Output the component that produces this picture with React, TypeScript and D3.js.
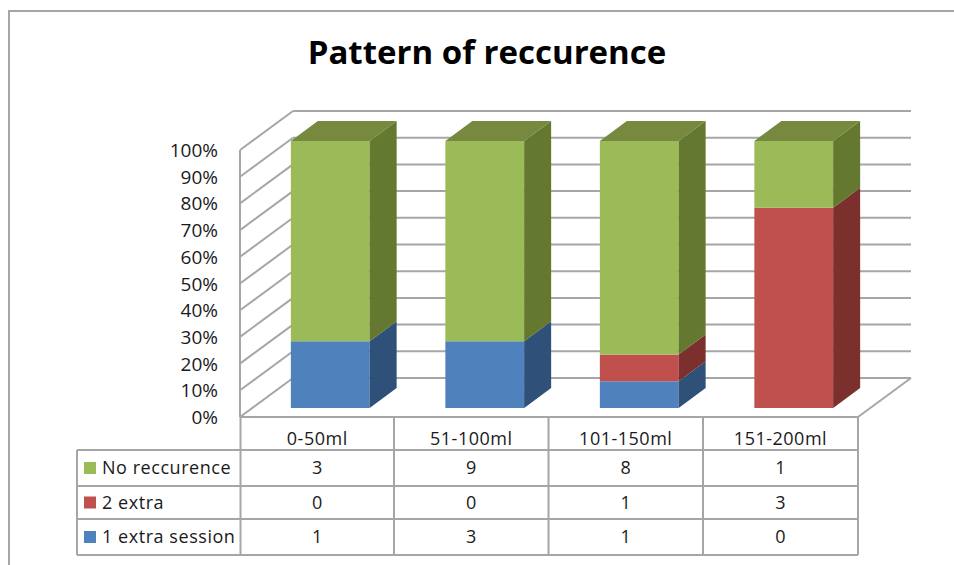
import React from "react";
import * as d3 from "d3";

const categories = ["0-50ml", "51-100ml", "101-150ml", "151-200ml"];
const seriesNames = ["1 extra session", "2 extra", "No reccurence"];
const oneExtra = [1, 3, 1, 0];
const twoExtra = [0, 0, 1, 3];
const noRecurrence = [3, 9, 8, 1];
const yTicks = [0, 0.1, 0.2, 0.3, 0.4, 0.5, 0.6, 0.7, 0.8, 0.9, 1];
const front = ["#4F81BD", "#C0504D", "#9BBB59"];
const side = ["#2F5078", "#7B302D", "#64782F"];
const topFace = "#76893F";
const grid = "#A6A6A6";
const textColor = "#1a1a1a";
const fontFamily = "'Open Sans', 'Noto Sans', sans-serif";

const rows = categories.map((c, i) => ({
  cat: c,
  [seriesNames[0]]: oneExtra[i],
  [seriesNames[1]]: twoExtra[i],
  [seriesNames[2]]: noRecurrence[i],
}));
const stacked = d3.stack<any>().keys(seriesNames).offset(d3.stackOffsetExpand)(rows);

const x = d3.scaleBand().domain(categories).range([240, 858]).paddingInner(0.49).paddingOuter(0.245);
const y = d3.scaleLinear().domain([0, 1]).range([417, 150]);

const wallDx = 53, wallDy = -39;
const barOffX = 13, barOffY = -9;
const barDx = 27, barDy = -20;

const tableRows = [
  { name: seriesNames[2], values: noRecurrence, color: front[2] },
  { name: seriesNames[1], values: twoExtra, color: front[1] },
  { name: seriesNames[0], values: oneExtra, color: front[0] },
];
const rowY = [450, 486, 519, 555];
const colX = [240.5, 394, 548.5, 703, 858];
const labelColX = 77;

const App = () => {
  return (
    <svg width={954} height={565} style={{ position: "absolute", left: 0, top: 0, background: "#fff" }} fontFamily={fontFamily}>
      <path d="M9 565V11H954" fill="none" stroke={grid} strokeWidth={2} />
      <text x={487} y={64} textAnchor="middle" fontSize={33} fontWeight={700} fill="#000">Pattern of reccurence</text>

      {yTicks.map((t) => (
        <g key={t} stroke={grid} strokeWidth={2} fill="none">
          <line x1={240} y1={y(t)} x2={240 + wallDx} y2={y(t) + wallDy} />
          <line x1={240 + wallDx} y1={y(t) + wallDy} x2={858 + wallDx} y2={y(t) + wallDy} />
        </g>
      ))}
      <g fill="none" stroke={grid} strokeWidth={2}>
        <line x1={240} y1={y(1)} x2={240} y2={y(0)} />
        <line x1={240} y1={y(0)} x2={858} y2={y(0)} />
        <line x1={858} y1={y(0)} x2={858 + wallDx} y2={y(0) + wallDy} />
      </g>

      {yTicks.map((t) => (
        <text key={t} x={218} y={y(t) + 7} textAnchor="end" fontSize={19} fill={textColor}>{d3.format(".0%")(t)}</text>
      ))}

      {stacked.map((s, si) => (
        <g key={s.key}>
          {s.map((d, i) => {
            if (d[1] - d[0] <= 0) return null;
            const x0 = x(categories[i])! + barOffX;
            const x1 = x0 + x.bandwidth();
            const yb = y(d[0]) + barOffY;
            const yt = y(d[1]) + barOffY;
            return (
              <g key={i}>
                <rect x={x0} y={yt} width={x.bandwidth()} height={yb - yt} fill={front[si]} />
                <path d={`M${x1} ${yb}L${x1 + barDx} ${yb + barDy}L${x1 + barDx} ${yt + barDy}L${x1} ${yt}Z`} fill={side[si]} />
                {d[1] === 1 && (
                  <path d={`M${x0} ${yt}L${x0 + barDx} ${yt + barDy}L${x1 + barDx} ${yt + barDy}L${x1} ${yt}Z`} fill={topFace} />
                )}
              </g>
            );
          })}
        </g>
      ))}

      <g fill="none" stroke={grid} strokeWidth={2}>
        {colX.map((cx) => <line key={cx} x1={cx} y1={417} x2={cx} y2={555} />)}
        <line x1={labelColX} y1={rowY[0]} x2={labelColX} y2={rowY[3]} />
        {rowY.map((ry) => <line key={ry} x1={labelColX} y1={ry} x2={858} y2={ry} />)}
      </g>
      {categories.map((c, i) => (
        <text key={c} x={(colX[i] + colX[i + 1]) / 2} y={445} textAnchor="middle" fontSize={18} letterSpacing={0.5} fill={textColor}>{c}</text>
      ))}
      {tableRows.map((r, ri) => {
        const cy = (rowY[ri] + rowY[ri + 1]) / 2;
        return (
          <g key={r.name}>
            <rect x={84} y={cy - 6} width={12} height={12} fill={r.color} />
            <text x={102} y={cy + 6} fontSize={18} letterSpacing={0.55} fill={textColor}>{r.name}</text>
            {r.values.map((v, i) => (
              <text key={i} x={(colX[i] + colX[i + 1]) / 2} y={cy + 6} textAnchor="middle" fontSize={18} fill={textColor}>{v}</text>
            ))}
          </g>
        );
      })}
    </svg>
  );
};

export default App;
